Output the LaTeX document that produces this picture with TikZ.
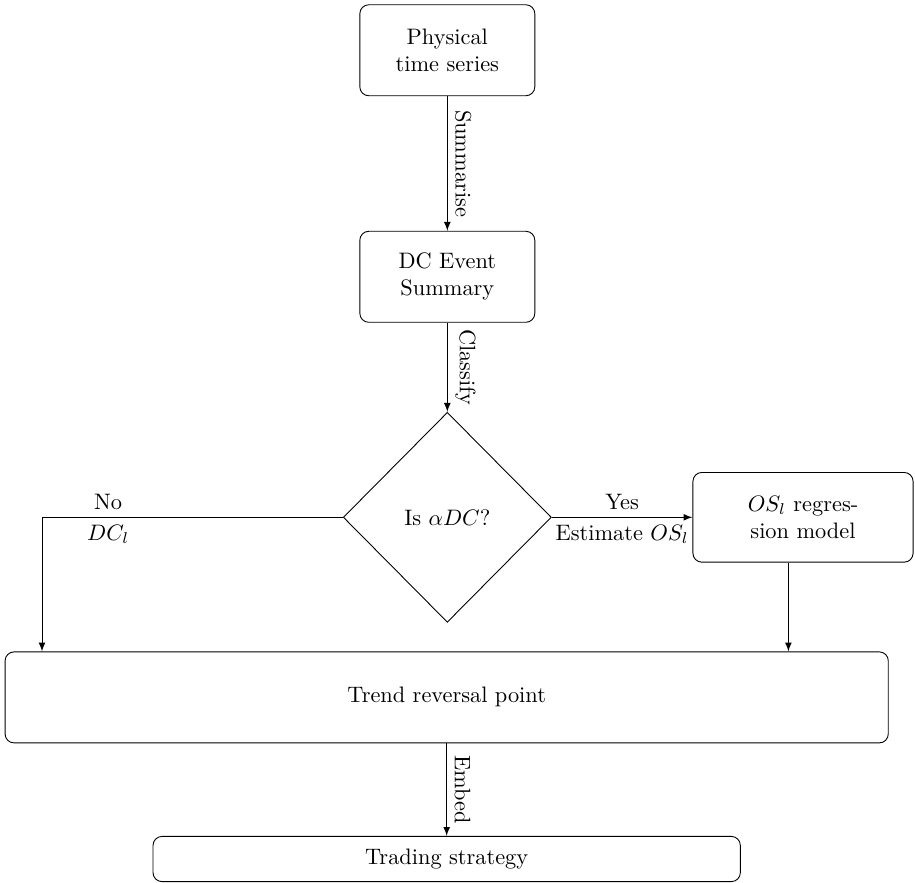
\documentclass[tikz,border=0pt]{standalone}
\usepackage{tikz}
\usetikzlibrary{arrows,shapes.geometric}

\begin{document}
\begin{tikzpicture}
  [box/.style={rectangle, draw=black, rounded corners, minimum width=2.75cm, minimum height=1.43cm, align=center},
    modelbox/.style={box, minimum width=3.46cm, minimum height=1.41cm},
    widebox/.style={box, minimum width=13.88cm},
    flatbox/.style={box, minimum width=9.23cm, minimum height=0.71cm},
    decision/.style={diamond, draw=black, minimum width=3.27cm, minimum height=3.3cm, inner sep=0pt},
    link/.style={->, >=latex},
    vlabel/.style={midway, rotate=-90, anchor=south}
  ]

  \useasboundingbox (0,0) rectangle (14.38,-13.865);

  \path (7.03,-0.79)  node[box]      (phys)  {Physical\\time series}
        (7.03,-4.35)  node[box]      (dcsum) {DC Event\\Summary}
        (7.03,-8.13)  node[decision] (isdc)  {Is $\alpha DC$?}
        (12.62,-8.13) node[modelbox] (osreg) {$OS_l$ regres-\\sion model}
        (7.02,-10.96) node[widebox]  (trp)   {Trend reversal point}
        (7.02,-13.50) node[flatbox]  (trade) {Trading strategy};

  \coordinate (nodrop) at (0.66,-8.13);
  \coordinate (yesdrop) at (12.39,-8.13);

  % main column
  \draw[link] (phys)  -- node[vlabel] {Summarise} (dcsum);
  \draw[link] (dcsum) -- node[vlabel] {Classify}  (isdc);
  \draw[link] (trp)   -- node[vlabel] {Embed}     (trade);

  % branches
  \draw[link] (isdc.west) -- node[pos=0.78, above] {No} node[pos=0.78, below] {$DC_l$}
              (nodrop) -- (nodrop |- trp.north);
  \draw[link] (isdc.east) -- node[above] {Yes} node[below] {Estimate $OS_l$} (osreg.west);
  \draw[link] (yesdrop |- osreg.south) -- (yesdrop |- trp.north);

\end{tikzpicture}
\end{document}
